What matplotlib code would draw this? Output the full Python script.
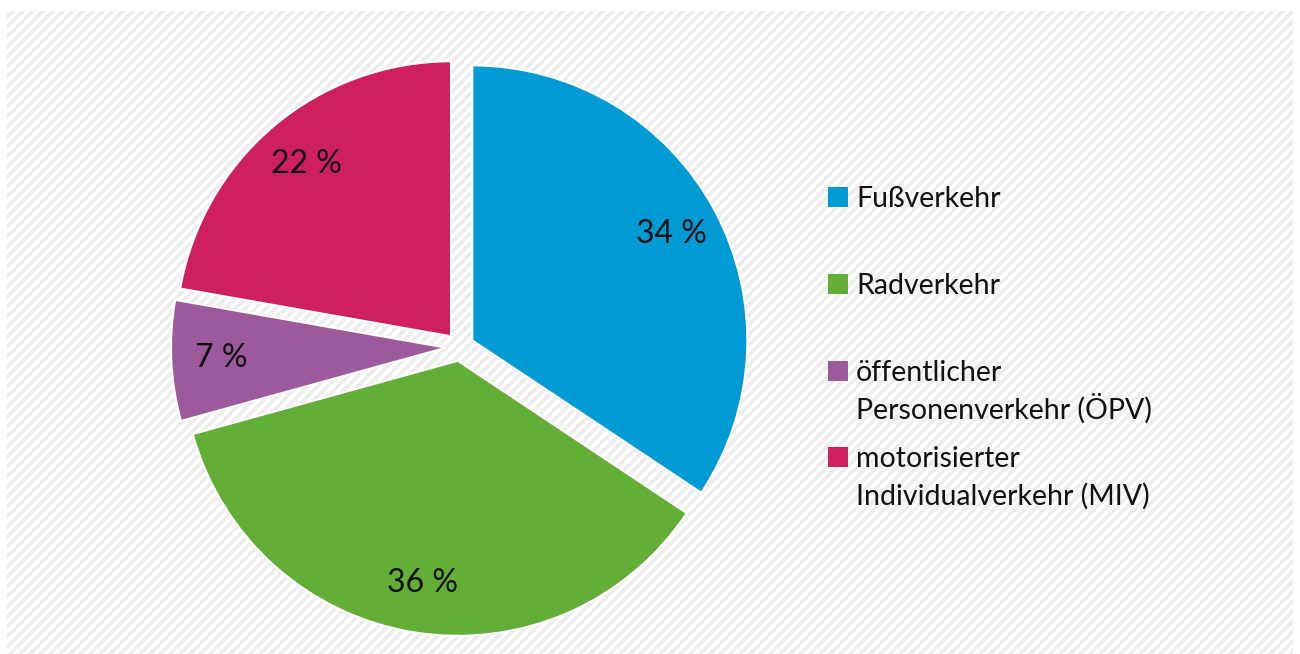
import numpy as np
import matplotlib.pyplot as plt
from matplotlib.patches import Rectangle

# data
categories = ['Fußverkehr', 'Radverkehr',
              'öffentlicher\nPersonenverkehr (ÖPV)',
              'motorisierter\nIndividualverkehr (MIV)']
shares = [34, 36, 7, 22]
colors = ['#009bd5', '#62ae37', '#9c5a9c', '#ce1f5e']

W, H = 1300, 654
plt.rcParams['font.family'] = ['Lato', 'DejaVu Sans']

fig = plt.figure(figsize=(W / 100, H / 100), dpi=100)
ax = fig.add_axes([0, 0, 1, 1])

# striped background panel (pixel coords, y up)
x0, x1, y0, y1 = 7, 1293, 0, H - 11
panel = Rectangle((x0, y0), x1 - x0, y1 - y0, facecolor='white', edgecolor='none', zorder=0)
ax.add_patch(panel)
for c in np.arange(-W - 20, H + 20, 10):
    ln, = ax.plot([x0 - 20, x1 + 20], [x0 - 20 + c, x1 + 20 + c],
                  color='#ededed', lw=2.6, solid_capstyle='butt', zorder=0.5)
    ln.set_clip_path(panel)

# exploded pie
cx, cy, R, gap = 460, H - 347, 275, 14
wedges, _, autotexts = ax.pie(
    shares, colors=colors, startangle=90, counterclock=False,
    center=(cx, cy), radius=R, explode=[gap] * len(shares),
    autopct=lambda p: f'{p:.0f} %', pctdistance=0.82,
    wedgeprops=dict(edgecolor='white', linewidth=1.5),
    textprops=dict(fontsize=23, color='#111111'), frame=True)
ax.set_xlim(0, W)
ax.set_ylim(0, H)
ax.set_aspect('equal')
ax.axis('off')
for w in wedges:
    w.set_zorder(2)
for t in autotexts:
    t.set_zorder(3)

# legend drawn by hand
baselines = [207, 294, 381, 467]
for label, col, yb in zip(categories, colors, baselines):
    ax.add_patch(Rectangle((828, H - yb), 20, 20, facecolor=col, edgecolor='none', zorder=3))
    for i, line in enumerate(label.split('\n')):
        ax.text(856, H - yb - i * 38, line, fontsize=20.5, color='#111111',
                ha='left', va='baseline', zorder=3)

fig.savefig('out.png', dpi=100)
